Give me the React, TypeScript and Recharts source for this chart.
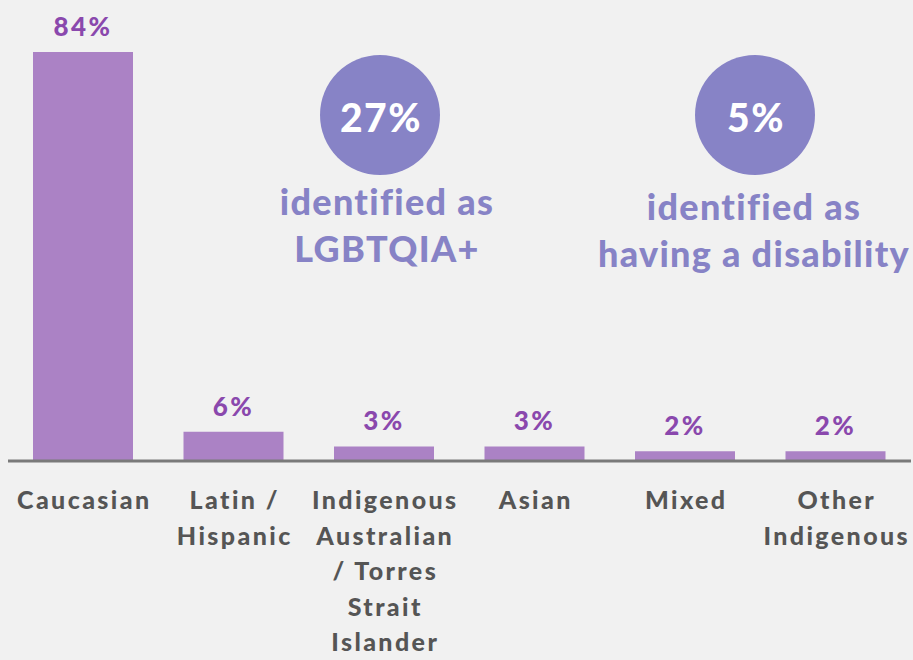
import React from 'react'
import { BarChart, Bar, XAxis, YAxis, LabelList } from 'recharts'

const categories = ['Caucasian', 'Latin / Hispanic', 'Indigenous Australian / Torres Strait Islander', 'Asian', 'Mixed', 'Other Indigenous']
const tickLines = [
  ['Caucasian'],
  ['Latin /', 'Hispanic'],
  ['Indigenous', 'Australian', '/ Torres', 'Strait', 'Islander'],
  ['Asian'],
  ['Mixed'],
  ['Other', 'Indigenous'],
]
const shares = [84, 6, 3, 3, 2, 2]

const highlightValues = ['27%', '5%']
const highlightCaptions = [
  ['identified as', 'LGBTQIA+'],
  ['identified as', 'having a disability'],
]
// where each callout sits on the page (circle centre, caption centre / first line)
const highlightSpots = [
  { cx: 380, cy: 115, tx: 387, ty: 201 },
  { cx: 755, cy: 115, tx: 754, ty: 206 },
]

const data = categories.map((name, i) => ({ name, share: shares[i] }))

const FONT = 'Lato, "Open Sans", sans-serif'
const BAR = '#ab82c5'
const VALUE = '#8a48ad'
const CALLOUT = '#8783c6'

const CategoryTick = ({ x, y, payload }: any) => {
  const lines = tickLines[categories.indexOf(payload.value)] || [payload.value]
  return (
    <g>
      {lines.map((l, i) => (
        <text key={i} x={x + 1} y={y + 38 + i * 35.6} textAnchor="middle" dominantBaseline="central"
          fill="#555555" fontSize={25} fontWeight={900} letterSpacing={2.4} fontFamily={FONT}>
          {l}
        </text>
      ))}
    </g>
  )
}

export default function App() {
  return (
    <div style={{ position: 'fixed', left: 0, top: 0, width: 913, height: 660, background: '#f1f1f1', overflow: 'hidden' }}>
      <BarChart width={913} height={660} data={data} margin={{ top: 52, right: 2, bottom: 0, left: 8 }}>
        <YAxis hide domain={[0, 84]} />
        <XAxis dataKey="name" height={199} interval={0} tickLine={false} tickSize={0} tickMargin={0}
          axisLine={{ stroke: '#7a7a7a', strokeWidth: 3 }} tick={<CategoryTick />} />
        <Bar dataKey="share" fill={BAR} barSize={100} isAnimationActive={false}>
          <LabelList dataKey="share" position="top" offset={16} formatter={(v: any) => `${v}%`}
            fill={VALUE} fontSize={26} fontWeight={900} letterSpacing={2.5} fontFamily={FONT} />
        </Bar>
      </BarChart>
      <svg width={913} height={660} style={{ position: 'absolute', left: 0, top: 0, pointerEvents: 'none' }}>
        {highlightValues.map((v, i) => {
          const s = highlightSpots[i]
          return (
            <g key={i}>
              <circle cx={s.cx} cy={s.cy} r={60} fill={CALLOUT} />
              <text x={s.cx + 1} y={s.cy + 2} textAnchor="middle" dominantBaseline="central" fill="#ffffff"
                fontSize={39} fontWeight={900} letterSpacing={1.5} fontFamily={FONT}>{v}</text>
              {highlightCaptions[i].map((c, j) => (
                <text key={j} x={s.tx} y={s.ty + j * 47} textAnchor="middle" dominantBaseline="central"
                  fill={CALLOUT} fontSize={36} fontWeight={900} letterSpacing={1.3} fontFamily={FONT}>{c}</text>
              ))}
            </g>
          )
        })}
      </svg>
    </div>
  )
}
